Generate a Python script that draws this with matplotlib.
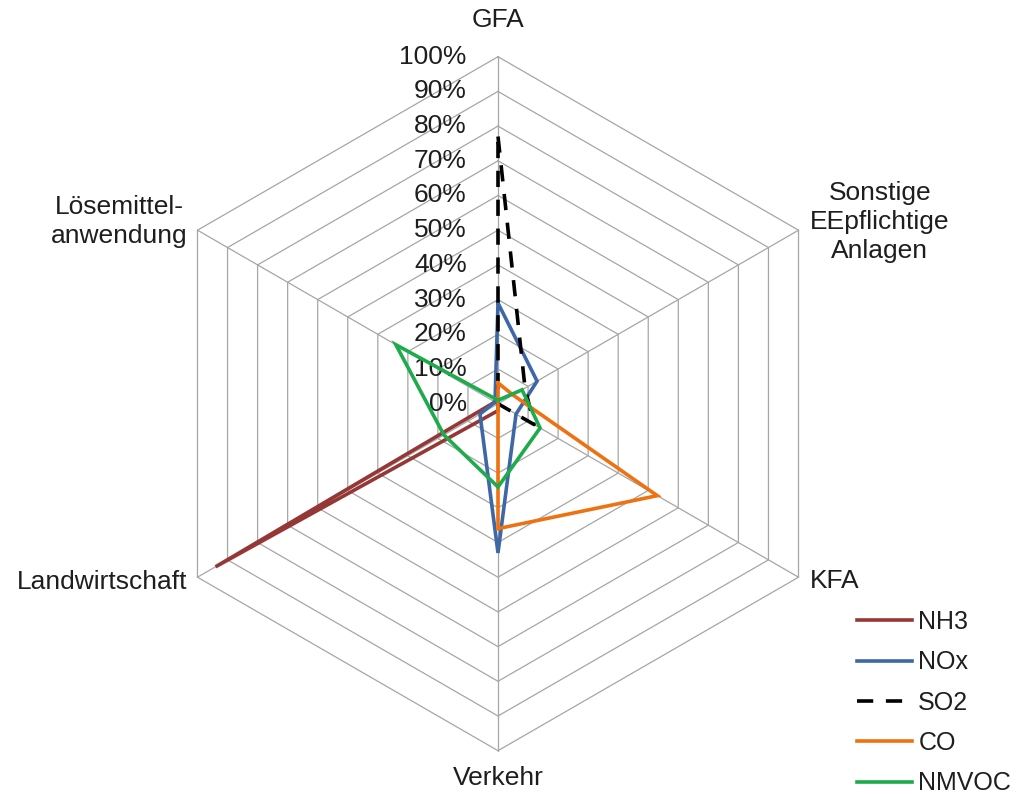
import numpy as np
import matplotlib
matplotlib.use("Agg")
import matplotlib.pyplot as plt

plt.rcParams['font.family'] = ['Liberation Sans', 'DejaVu Sans']

categories = ["GFA", "Sonstige\nEEpflichtige\nAnlagen", "KFA", "Verkehr",
              "Landwirtschaft", "Lösemittel-\nanwendung"]
series_names = ["NH3", "NOx", "SO2", "CO", "NMVOC"]
NH3 = [0, 0, 0, 2, 94, 1]
NOx = [29, 13, 6, 43, 6, 1]
SO2 = [77, 9, 12, 0, 0, 0]
CO = [6, 5, 53, 36, 0, 0]
NMVOC = [1, 8, 14, 24, 18, 34]
tick_values = [0, 10, 20, 30, 40, 50, 60, 70, 80, 90, 100]
tick_labels = [f"{v}%" for v in tick_values]

colors = ["#953735", "#3E67A6", "#000000", "#EE7112", "#1EAB4B"]
styles = ["-", "-", "--", "-", "-"]
data = [NH3, NOx, SO2, CO, NMVOC]

W, H, DPI = 1016, 794, 100
cx, cy, R = 498.0, 403.7, 347.0  # pixel centre and radius of 100%
fig = plt.figure(figsize=(W / DPI, H / DPI), dpi=DPI)
ax = fig.add_axes([0, 0, 1, 1])
s = 100.0 / R
ax.set_xlim(-cx * s, (W - cx) * s)
ax.set_ylim(-(H - cy) * s, cy * s)
ax.set_aspect('equal')
ax.axis('off')

n = len(categories)
angles = np.deg2rad(90 - 60 * np.arange(n))
ca, sa = np.cos(angles), np.sin(angles)

FS = 19
LFS = 18
TXT = '#1E1E1E'
grid_c = "#A6A6A6"
# rings
for v in tick_values[1:]:
    xs = np.append(v * ca, v * ca[0])
    ys = np.append(v * sa, v * sa[0])
    ax.plot(xs, ys, color=grid_c, lw=0.9, zorder=1)
# spokes
for i in range(n):
    ax.plot([0, 100 * ca[i]], [0, 100 * sa[i]], color=grid_c, lw=0.9, zorder=1)

# tick labels
for v, lab in zip(tick_values, tick_labels):
    ax.text(-9, v, lab, ha='right', va='center', fontsize=FS, color=TXT, zorder=2)

# series
handles = []
for name, vals, c, st in zip(series_names, data, colors, styles):
    v = np.array(vals, dtype=float)
    xs = np.append(v * ca, v[0] * ca[0])
    ys = np.append(v * sa, v[0] * sa[0])
    if st == '--':
        h, = ax.plot(xs, ys, color=c, lw=2.6, dashes=(4.5, 3.5), label=name, zorder=3)
    else:
        h, = ax.plot(xs, ys, color=c, lw=2.6, label=name, zorder=3,
                     solid_joinstyle='miter')
    handles.append(h)

# category labels
lab_pos = [
    (0, 110.6, 'center', 'center'),
    (110, 52.4, 'center', 'center'),
    (97, -51, 'center', 'center'),
    (0, -107.8, 'center', 'center'),
    (-89.5, -51.5, 'right', 'center'),
    (-89.5, 52.5, 'right', 'center'),
]
for cat, (x, y, ha, va) in zip(categories, lab_pos):
    ax.text(x, y, cat, ha=ha, va=va, fontsize=FS, color=TXT,
            multialignment='center', linespacing=1.28)

leg = fig.legend(handles=handles, loc='upper left', bbox_to_anchor=(857 / W, 1 - 610 / H),
                 frameon=False, fontsize=LFS, handlelength=2.2, handletextpad=0.25,
                 labelspacing=0.655, borderpad=0, borderaxespad=0)
for t in leg.get_texts():
    t.set_color(TXT)

fig.savefig("out.png", dpi=DPI)
